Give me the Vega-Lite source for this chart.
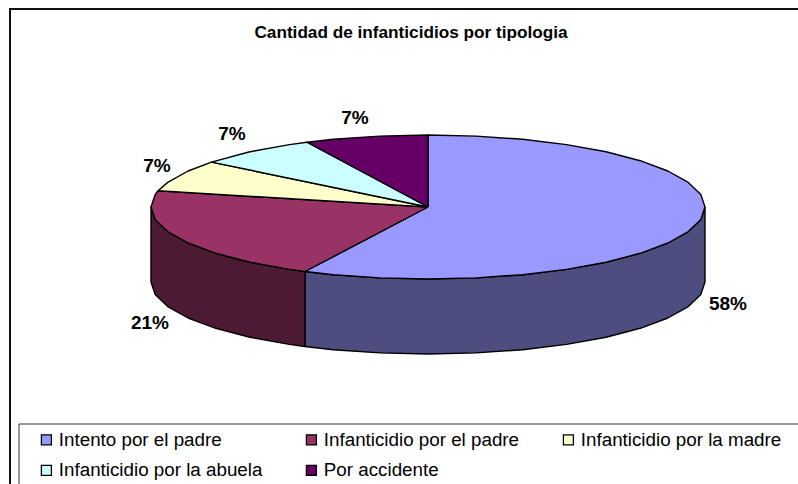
{"$schema":"https://vega.github.io/schema/vega-lite/v6.json","width":798,"height":484,"autosize":{"type":"none"},"padding":0,"background":"white","view":{"stroke":null},
"title":{"text":"Cantidad de infanticidios por tipologia","font":"Liberation Sans","fontSize":17.2,"fontWeight":"bold","color":"black","anchor":"middle","frame":"group","offset":0,"dy":41,"dx":12},
"datasets":{
"frame":[{"part":"marco","seq":1,"x":-418,"y":-277},{"part":"marco","seq":2,"x":-418,"y":198},{"part":"marco","seq":3,"x":370,"y":198}],
"legendbox":[{"part":"caja","seq":1,"x":-409,"y":-277},{"part":"caja","seq":2,"x":-409,"y":-217},{"part":"caja","seq":3,"x":370,"y":-217}],
"sideA":[{"seq":1,"x":277,"y":0},{"seq":2,"x":272.8,"y":-12.5},{"seq":3,"x":260.3,"y":-24.6},{"seq":4,"x":239.9,"y":-36},{"seq":5,"x":212.2,"y":-46.3},{"seq":6,"x":178.1,"y":-55.2},{"seq":7,"x":138.5,"y":-62.4},{"seq":8,"x":94.7,"y":-67.7},{"seq":9,"x":48.1,"y":-70.9},{"seq":10,"x":0,"y":-72},{"seq":11,"x":-48.1,"y":-70.9},{"seq":12,"x":-94.7,"y":-67.7},{"seq":13,"x":-123,"y":-64.5},{"seq":14,"x":-123,"y":-139.5},{"seq":15,"x":-94.7,"y":-142.7},{"seq":16,"x":-48.1,"y":-145.9},{"seq":17,"x":0,"y":-147},{"seq":18,"x":48.1,"y":-145.9},{"seq":19,"x":94.7,"y":-142.7},{"seq":20,"x":138.5,"y":-137.4},{"seq":21,"x":178.1,"y":-130.2},{"seq":22,"x":212.2,"y":-121.3},{"seq":23,"x":239.9,"y":-111},{"seq":24,"x":260.3,"y":-99.6},{"seq":25,"x":272.8,"y":-87.5},{"seq":26,"x":277,"y":-75},{"seq":27,"x":277,"y":0}],
"sideB":[{"seq":1,"x":-123,"y":-64.5},{"seq":2,"x":-138.5,"y":-62.4},{"seq":3,"x":-178.1,"y":-55.2},{"seq":4,"x":-212.2,"y":-46.3},{"seq":5,"x":-239.9,"y":-36},{"seq":6,"x":-260.3,"y":-24.6},{"seq":7,"x":-272.8,"y":-12.5},{"seq":8,"x":-277,"y":0},{"seq":9,"x":-277,"y":-75},{"seq":10,"x":-272.8,"y":-87.5},{"seq":11,"x":-260.3,"y":-99.6},{"seq":12,"x":-239.9,"y":-111},{"seq":13,"x":-212.2,"y":-121.3},{"seq":14,"x":-178.1,"y":-130.2},{"seq":15,"x":-138.5,"y":-137.4},{"seq":16,"x":-123,"y":-139.5},{"seq":17,"x":-123,"y":-64.5}],
"slices":[
{"tipo":"Intento por el padre","seq":0,"x":0,"y":0},{"tipo":"Intento por el padre","seq":1,"x":0,"y":72},{"tipo":"Intento por el padre","seq":2,"x":48.1,"y":70.9},{"tipo":"Intento por el padre","seq":3,"x":94.7,"y":67.7},{"tipo":"Intento por el padre","seq":4,"x":138.5,"y":62.4},{"tipo":"Intento por el padre","seq":5,"x":178.1,"y":55.2},{"tipo":"Intento por el padre","seq":6,"x":212.2,"y":46.3},{"tipo":"Intento por el padre","seq":7,"x":239.9,"y":36},{"tipo":"Intento por el padre","seq":8,"x":260.3,"y":24.6},{"tipo":"Intento por el padre","seq":9,"x":272.8,"y":12.5},{"tipo":"Intento por el padre","seq":10,"x":277,"y":0},{"tipo":"Intento por el padre","seq":11,"x":272.8,"y":-12.5},{"tipo":"Intento por el padre","seq":12,"x":260.3,"y":-24.6},{"tipo":"Intento por el padre","seq":13,"x":239.9,"y":-36},{"tipo":"Intento por el padre","seq":14,"x":212.2,"y":-46.3},{"tipo":"Intento por el padre","seq":15,"x":178.1,"y":-55.2},{"tipo":"Intento por el padre","seq":16,"x":138.5,"y":-62.4},{"tipo":"Intento por el padre","seq":17,"x":94.7,"y":-67.7},{"tipo":"Intento por el padre","seq":18,"x":48.1,"y":-70.9},{"tipo":"Intento por el padre","seq":19,"x":0,"y":-72},{"tipo":"Intento por el padre","seq":20,"x":-48.1,"y":-70.9},{"tipo":"Intento por el padre","seq":21,"x":-94.7,"y":-67.7},{"tipo":"Intento por el padre","seq":22,"x":-123,"y":-64.5},{"tipo":"Intento por el padre","seq":23,"x":0,"y":0},
{"tipo":"Infanticidio por el padre","seq":0,"x":0,"y":0},{"tipo":"Infanticidio por el padre","seq":1,"x":-123,"y":-64.5},{"tipo":"Infanticidio por el padre","seq":2,"x":-138.5,"y":-62.4},{"tipo":"Infanticidio por el padre","seq":3,"x":-178.1,"y":-55.2},{"tipo":"Infanticidio por el padre","seq":4,"x":-212.2,"y":-46.3},{"tipo":"Infanticidio por el padre","seq":5,"x":-239.9,"y":-36},{"tipo":"Infanticidio por el padre","seq":6,"x":-260.3,"y":-24.6},{"tipo":"Infanticidio por el padre","seq":7,"x":-272.8,"y":-12.5},{"tipo":"Infanticidio por el padre","seq":8,"x":-277,"y":0},{"tipo":"Infanticidio por el padre","seq":9,"x":-272.8,"y":12.5},{"tipo":"Infanticidio por el padre","seq":10,"x":-269.9,"y":16.2},{"tipo":"Infanticidio por el padre","seq":11,"x":0,"y":0},
{"tipo":"Infanticidio por la madre","seq":0,"x":0,"y":0},{"tipo":"Infanticidio por la madre","seq":1,"x":-269.9,"y":16.2},{"tipo":"Infanticidio por la madre","seq":2,"x":-260.3,"y":24.6},{"tipo":"Infanticidio por la madre","seq":3,"x":-239.9,"y":36},{"tipo":"Infanticidio por la madre","seq":4,"x":-216.5,"y":44.9},{"tipo":"Infanticidio por la madre","seq":5,"x":0,"y":0},
{"tipo":"Infanticidio por la abuela","seq":0,"x":0,"y":0},{"tipo":"Infanticidio por la abuela","seq":1,"x":-216.5,"y":44.9},{"tipo":"Infanticidio por la abuela","seq":2,"x":-178.1,"y":55.2},{"tipo":"Infanticidio por la abuela","seq":3,"x":-138.5,"y":62.4},{"tipo":"Infanticidio por la abuela","seq":4,"x":-121,"y":64.8},{"tipo":"Infanticidio por la abuela","seq":5,"x":0,"y":0},
{"tipo":"Por accidente","seq":0,"x":0,"y":0},{"tipo":"Por accidente","seq":1,"x":-121,"y":64.8},{"tipo":"Por accidente","seq":2,"x":-94.7,"y":67.7},{"tipo":"Por accidente","seq":3,"x":-48.1,"y":70.9},{"tipo":"Por accidente","seq":4,"x":0,"y":72},{"tipo":"Por accidente","seq":5,"x":0,"y":0}],
"labels":[{"label":"58%","x":300,"y":-97},{"label":"21%","x":-278,"y":-116},{"label":"7%","x":-271,"y":41},{"label":"7%","x":-196,"y":73},{"label":"7%","x":-73,"y":89}]
},
"encoding":{"x":{"field":"x","type":"quantitative","scale":{"domain":[-428,370],"nice":false,"zero":false},"axis":null},"y":{"field":"y","type":"quantitative","scale":{"domain":[-277,207],"nice":false,"zero":false},"axis":null}},
"layer":[
{"data":{"name":"frame"},"mark":{"type":"line","stroke":"#111111","strokeWidth":2,"clip":false},"encoding":{"order":{"field":"seq","type":"quantitative"}}},
{"data":{"name":"legendbox"},"mark":{"type":"line","stroke":"#333333","strokeWidth":1,"clip":false},"encoding":{"order":{"field":"seq","type":"quantitative"}}},
{"data":{"name":"sideA"},"mark":{"type":"line","fill":"#4D4D80","stroke":"black","strokeWidth":1.4,"strokeJoin":"round"},"encoding":{"order":{"field":"seq","type":"quantitative"}}},
{"data":{"name":"sideB"},"mark":{"type":"line","fill":"#4D1A33","stroke":"black","strokeWidth":1.4,"strokeJoin":"round"},"encoding":{"order":{"field":"seq","type":"quantitative"}}},
{"data":{"name":"slices"},"mark":{"type":"line","stroke":"black","strokeWidth":1.4,"strokeJoin":"round"},"encoding":{"order":{"field":"seq","type":"quantitative"},
"fill":{"field":"tipo","type":"nominal","scale":{"domain":["Intento por el padre","Infanticidio por la abuela","Infanticidio por el padre","Por accidente","Infanticidio por la madre"],"range":["#9999FF","#CCFFFF","#993366","#660066","#FFFFCC"]},
"legend":{"title":null,"orient":"none","legendX":37,"legendY":430,"columns":3,"columnPadding":39,"rowPadding":11,"symbolType":"square","symbolSize":100,"symbolStrokeColor":"black","symbolStrokeWidth":1.3,"labelFont":"Liberation Sans","labelFontSize":18.8,"labelColor":"black","labelOffset":3,"labelLimit":400}}}},
{"data":{"name":"labels"},"mark":{"type":"text","font":"Liberation Sans","fontSize":19,"fontWeight":"bold","color":"black"},"encoding":{"text":{"field":"label","type":"nominal"}}}
]}
